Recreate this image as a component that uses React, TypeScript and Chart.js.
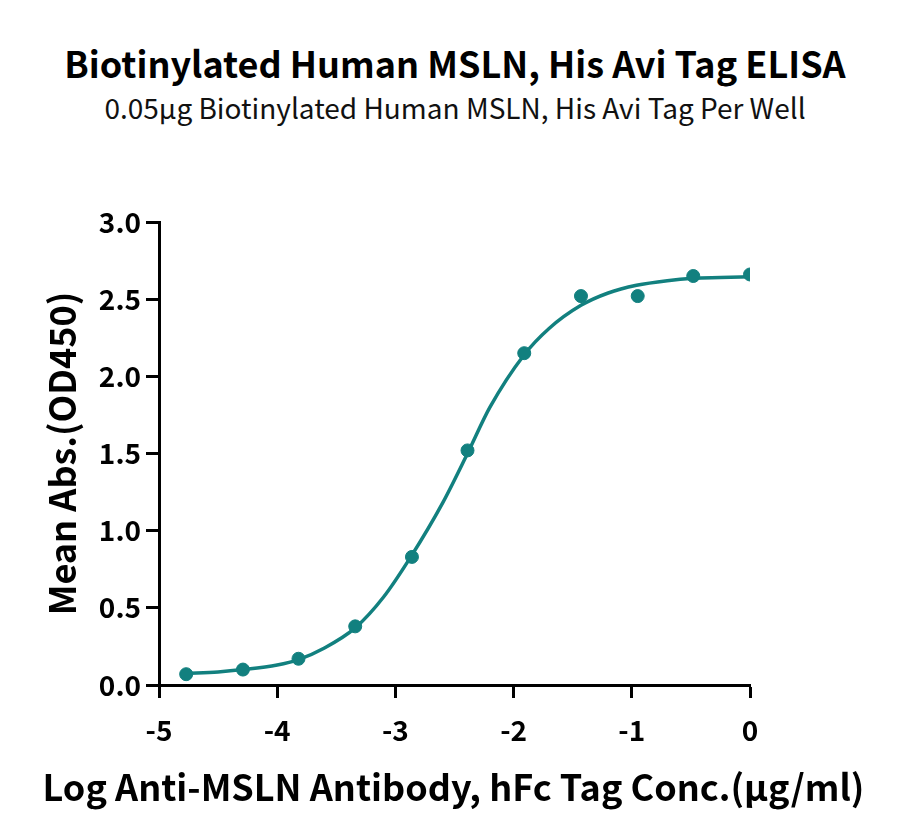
import React, { useEffect, useRef } from "react";
import { Chart, registerables } from "chart.js";

Chart.register(...registerables);

const TITLE = "Biotinylated Human MSLN, His Avi Tag ELISA";
const SUBTITLE = "0.05μg Biotinylated Human MSLN, His Avi Tag Per Well";
const X_TITLE = "Log Anti-MSLN Antibody, hFc Tag Conc.(μg/ml)";
const Y_TITLE = "Mean Abs.(OD450)";

// measured points
const logConc = [-4.77, -4.29, -3.82, -3.34, -2.86, -2.39, -1.91, -1.43, -0.95, -0.48, 0];
const meanAbs = [0.07, 0.1, 0.17, 0.38, 0.83, 1.52, 2.15, 2.52, 2.52, 2.65, 2.66];

// fitted curve
const curveX = [-4.77, -4.5, -4.29, -4.0, -3.82, -3.6, -3.34, -3.1, -2.87, -2.6, -2.39, -2.2, -1.91, -1.7, -1.43, -1.2, -0.96, -0.7, -0.48, -0.25, 0];
const curveY = [0.075, 0.085, 0.1, 0.13, 0.165, 0.24, 0.37, 0.57, 0.83, 1.18, 1.5, 1.8, 2.14, 2.31, 2.46, 2.54, 2.59, 2.62, 2.635, 2.64, 2.645];

const xTicks = [-5, -4, -3, -2, -1, 0];
const yTicks = [0, 0.5, 1.0, 1.5, 2.0, 2.5, 3.0];

const TEAL = "#12807f";
const FONT = "'Noto Sans CJK SC', 'Noto Sans', sans-serif";

export default function App() {
  const ref = useRef<HTMLCanvasElement | null>(null);

  useEffect(() => {
    if (!ref.current) return;
    const chart = new Chart(ref.current, {
      type: "scatter",
      data: {
        datasets: [
          {
            type: "line",
            label: "Fit",
            data: curveX.map((x, i) => ({ x, y: curveY[i] })),
            borderColor: TEAL,
            borderWidth: 3.5,
            pointRadius: 0,
            fill: false,
            cubicInterpolationMode: "monotone",
            order: 2,
          },
          {
            type: "scatter",
            label: "Data",
            data: logConc.map((x, i) => ({ x, y: meanAbs[i] })),
            backgroundColor: TEAL,
            borderColor: TEAL,
            pointRadius: 6.5,
            pointHoverRadius: 6.5,
            order: 1,
          },
        ],
      },
      options: {
        responsive: false,
        animation: false,
        layout: { padding: { top: 222, left: 0, right: 150, bottom: 0 } },
        plugins: {
          legend: { display: false },
          tooltip: { enabled: false },
          title: { display: false },
        },
        scales: {
          x: {
            type: "linear",
            min: -5,
            max: 0,
            afterFit: (s: any) => {
              s.height = 155;
            },
            afterBuildTicks: (s: any) => {
              s.ticks = xTicks.map((v) => ({ value: v }));
            },
            ticks: {
              color: "#000",
              padding: 16,
              font: { family: FONT, size: 28, weight: "bold" },
              callback: (v: any) => String(v),
            },
            grid: {
              display: true,
              drawOnChartArea: false,
              drawTicks: true,
              tickLength: 13,
              tickWidth: 3,
              tickColor: "#000",
            },
            border: { display: true, color: "#000", width: 3 },
            title: { display: false, text: X_TITLE },
          },
          y: {
            type: "linear",
            min: 0,
            max: 3,
            afterFit: (s: any) => {
              s.width = 159;
            },
            afterBuildTicks: (s: any) => {
              s.ticks = yTicks.map((v) => ({ value: v }));
            },
            ticks: {
              color: "#000",
              padding: 5,
              font: { family: FONT, size: 28, weight: "bold" },
              callback: (v: any) => Number(v).toFixed(1),
            },
            grid: {
              display: true,
              drawOnChartArea: false,
              drawTicks: true,
              tickLength: 13,
              tickWidth: 3,
              tickColor: "#000",
            },
            border: { display: true, color: "#000", width: 3 },
            title: {
              display: true,
              text: Y_TITLE,
              color: "#000",
              font: { family: FONT, size: 36, weight: "bold" },
              padding: { top: 41, bottom: 0 },
            },
          },
        },
      },
    } as any);
    return () => chart.destroy();
  }, []);

  return (
    <div style={{ position: "absolute", left: 0, top: 0, width: 900, height: 840, background: "#fff" }}>
      <div
        style={{
          position: "absolute",
          left: 10,
          top: 40,
          width: 890,
          textAlign: "center",
          fontFamily: FONT,
          fontWeight: 700,
          fontSize: 36,
          lineHeight: "44px",
          color: "#000",
        }}
      >
        {TITLE}
      </div>
      <div
        style={{
          position: "absolute",
          left: 10,
          top: 90,
          width: 890,
          textAlign: "center",
          fontFamily: FONT,
          fontWeight: 400,
          fontSize: 28,
          lineHeight: "34px",
          color: "#111",
        }}
      >
        {SUBTITLE}
      </div>
      <canvas ref={ref} width={900} height={840} style={{ position: "absolute", left: 0, top: 0 }} />
      <div
        style={{
          position: "absolute",
          left: 0,
          top: 762,
          width: 907,
          textAlign: "center",
          fontFamily: FONT,
          fontWeight: 700,
          fontSize: 36,
          lineHeight: "46px",
          color: "#000",
          whiteSpace: "nowrap",
        }}
      >
        {X_TITLE}
      </div>
    </div>
  );
}
